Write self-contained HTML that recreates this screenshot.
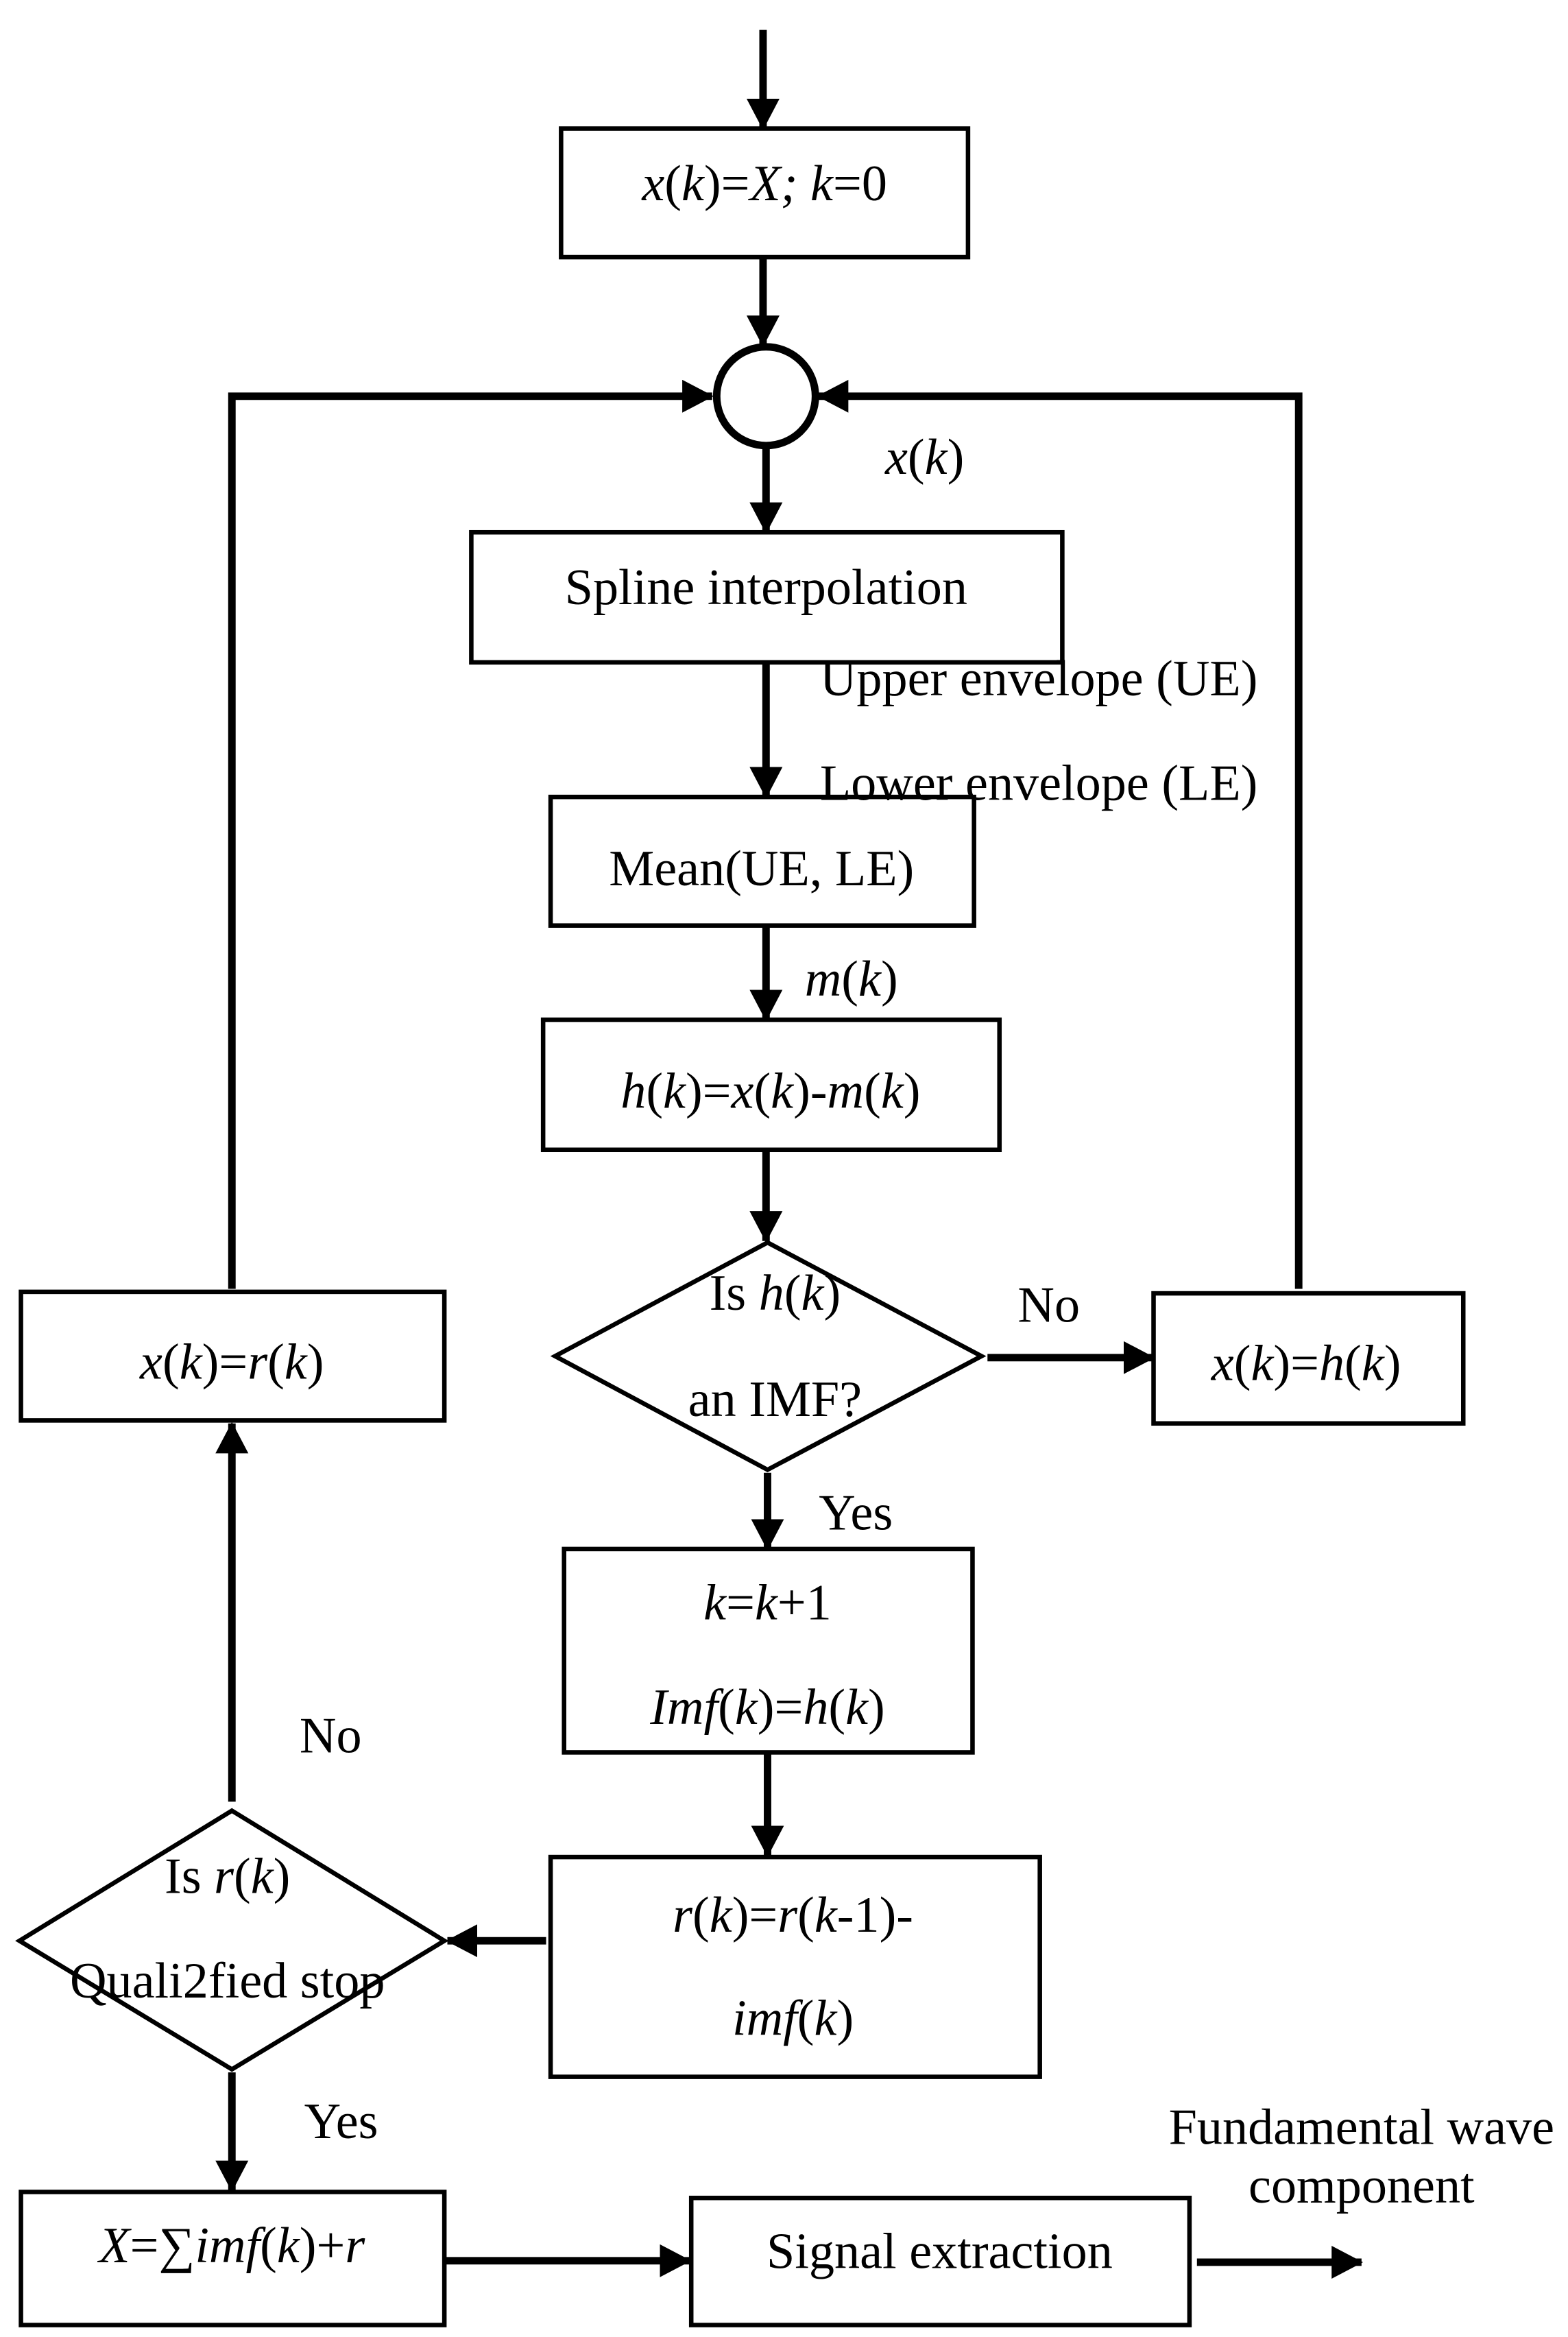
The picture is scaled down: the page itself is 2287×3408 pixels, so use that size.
<!DOCTYPE html>
<html><head><meta charset="utf-8"><style>
html,body{margin:0;padding:0;background:#fff}
svg{display:block}
text{font-family:"Liberation Serif",serif;font-size:34px;fill:#000}
.i{font-style:italic}
</style></head><body>
<svg width="2287" height="3408" viewBox="0 0 1048 1563" preserveAspectRatio="none" xmlns="http://www.w3.org/2000/svg">
<defs><marker id="a" markerUnits="userSpaceOnUse" markerWidth="24" markerHeight="24" refX="20" refY="11" orient="auto" viewBox="0 0 24 24"><path d="M0,0 L21,11 L0,22 Z" fill="#000"/></marker></defs>
<g fill="none" stroke="#000" stroke-width="3">
<rect x="375" y="86" width="272" height="86"/>
<circle cx="512" cy="265" r="33" stroke-width="5"/>
<rect x="315" y="356" width="395" height="87"/>
<rect x="368" y="533" width="283" height="86"/>
<rect x="363" y="682" width="305" height="87"/>
<path d="M513,831 L656,907 L513,983 L371,907 Z"/>
<rect x="771" y="865" width="207" height="87"/>
<rect x="377" y="1036" width="273" height="136"/>
<rect x="368" y="1242" width="327" height="147"/>
<path d="M155,1211 L297,1298 L155,1384 L13,1298 Z"/>
<rect x="14" y="864" width="283" height="86"/>
<rect x="14" y="1466" width="283" height="89"/>
<rect x="462" y="1470" width="333" height="85"/>
</g>
<g fill="none" stroke="#000" stroke-width="5" marker-end="url(#a)">
<path d="M510,20 V86"/>
<path d="M510,172 V231"/>
<path d="M155,862 V265 H476"/>
<path d="M868,862 V265 H547"/>
<path d="M512,298 V356"/>
<path d="M512,443 V533"/>
<path d="M512,619 V682"/>
<path d="M512,769 V830"/>
<path d="M660,908 H771"/>
<path d="M513,985 V1036"/>
<path d="M513,1172 V1241"/>
<path d="M365,1298 H299"/>
<path d="M155,1205 V952"/>
<path d="M155,1386 V1465"/>
<path d="M297,1512 H461"/>
<path d="M800,1513 H910"/>
</g>
<g text-anchor="middle">
<text x="511" y="134"><tspan class="i">x</tspan>(<tspan class="i">k</tspan>)=<tspan class="i">X; k</tspan>=0</text>
<text x="618" y="317"><tspan class="i">x</tspan>(<tspan class="i">k</tspan>)</text>
<text x="512" y="404">Spline interpolation</text>
<text x="509" y="592">Mean(UE, LE)</text>
<text x="569" y="666"><tspan class="i">m</tspan>(<tspan class="i">k</tspan>)</text>
<text x="515" y="741"><tspan class="i">h</tspan>(<tspan class="i">k</tspan>)=<tspan class="i">x</tspan>(<tspan class="i">k</tspan>)-<tspan class="i">m</tspan>(<tspan class="i">k</tspan>)</text>
<text x="518" y="876">Is <tspan class="i">h</tspan>(<tspan class="i">k</tspan>)</text>
<text x="518" y="947">an IMF?</text>
<text x="701" y="884">No</text>
<text x="873" y="923"><tspan class="i">x</tspan>(<tspan class="i">k</tspan>)=<tspan class="i">h</tspan>(<tspan class="i">k</tspan>)</text>
<text x="572" y="1023">Yes</text>
<text x="513" y="1083"><tspan class="i">k</tspan>=<tspan class="i">k</tspan>+1</text>
<text x="513" y="1153"><tspan class="i">Imf</tspan>(<tspan class="i">k</tspan>)=<tspan class="i">h</tspan>(<tspan class="i">k</tspan>)</text>
<text x="530" y="1292"><tspan class="i">r</tspan>(<tspan class="i">k</tspan>)=<tspan class="i">r</tspan>(<tspan class="i">k</tspan>-1)-</text>
<text x="530" y="1361"><tspan class="i">imf</tspan>(<tspan class="i">k</tspan>)</text>
<text x="152" y="1266">Is <tspan class="i">r</tspan>(<tspan class="i">k</tspan>)</text>
<text x="152" y="1336">Quali2fied stop</text>
<text x="221" y="1172">No</text>
<text x="155" y="922"><tspan class="i">x</tspan>(<tspan class="i">k</tspan>)=<tspan class="i">r</tspan>(<tspan class="i">k</tspan>)</text>
<text x="228" y="1430">Yes</text>
<text x="155" y="1513"><tspan class="i">X</tspan>=∑<tspan class="i">imf</tspan>(<tspan class="i">k</tspan>)+<tspan class="i">r</tspan></text>
<text x="628" y="1517">Signal extraction</text>
<text x="910" y="1434">Fundamental wave</text>
<text x="910" y="1473">component</text>
</g>
<text x="548" y="465">Upper envelope (UE)</text>
<text x="548" y="535">Lower envelope (LE)</text>
</svg>
</body></html>
